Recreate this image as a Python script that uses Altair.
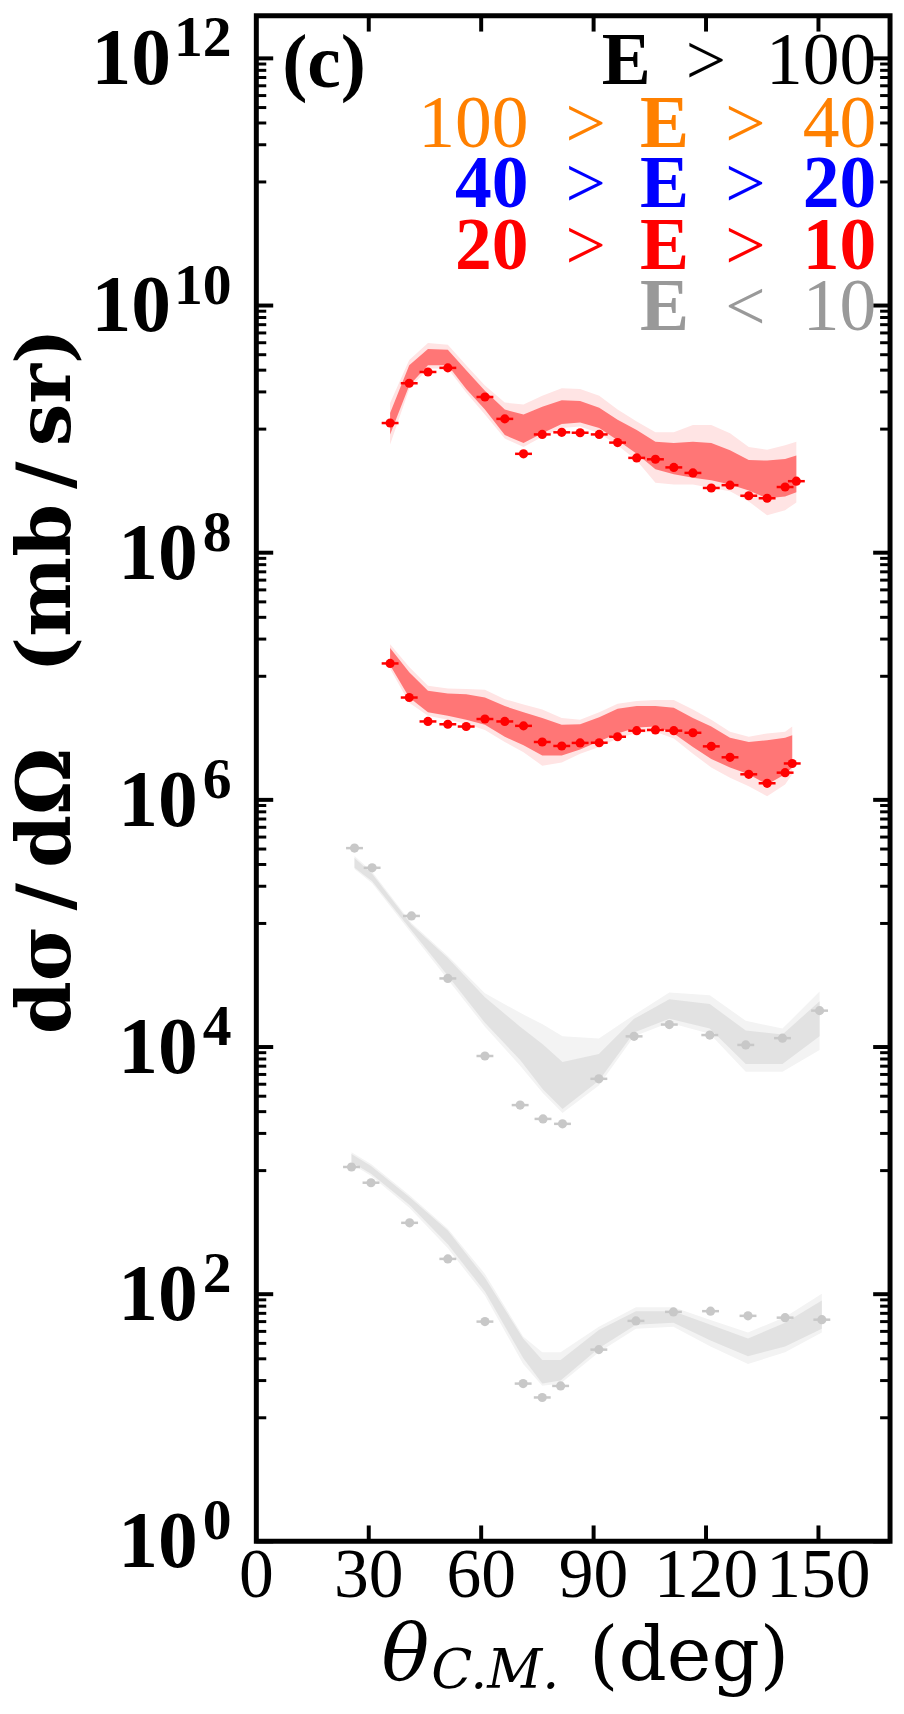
import altair as alt
import pandas as pd

# ------------------------------------------------------------------ data
# angles (theta C.M., deg)
theta_s1_pts = [35.7, 40.8, 45.8, 51.1, 61.0, 66.3, 71.3, 76.3, 81.5, 86.4, 91.5, 96.4,
                101.5, 106.5, 111.4, 116.5, 121.4, 126.4, 131.4, 136.3, 141.1, 144.1]
theta_s1_band = [35.7, 40.8, 45.8, 51.1, 56.0, 61.0, 66.3, 71.3, 76.3, 81.5, 86.4, 91.5,
                 96.4, 101.5, 106.5, 111.4, 116.5, 121.4, 126.4, 131.4, 136.3, 141.1, 144.1]
theta_s2 = [35.7, 40.8, 45.8, 51.1, 56.0, 61.0, 66.3, 71.3, 76.3, 81.5, 86.4, 91.5,
            96.4, 101.5, 106.5, 111.4, 116.5, 121.4, 126.4, 131.4, 136.3, 141.1, 143.0]
theta_s3 = [26.2, 30.9, 41.4, 51.1, 61.0, 70.4, 76.5, 81.7, 91.4, 100.8, 110.2, 121.0,
            130.6, 140.4, 150.3]
theta_s4 = [25.4, 30.6, 40.9, 51.1, 61.0, 71.2, 76.3, 81.2, 91.4, 101.3, 111.3, 121.2,
            131.2, 141.1, 150.9]

# series 1 (red, top)
s1_pts = [1.12e9, 2.35e9, 2.90e9, 3.13e9, 1.82e9, 1.21e9, 6.31e8, 9.06e8, 9.42e8, 9.35e8,
          9.06e8, 7.78e8, 5.85e8, 5.70e8, 4.90e8, 4.42e8, 3.34e8, 3.52e8, 2.89e8, 2.76e8,
          3.40e8, 3.79e8]
s1_in_hi = [1.35e9, 3.29e9, 4.44e9, 4.38e9, 2.99e9, 2.04e9, 1.44e9, 1.31e9, 1.52e9, 1.71e9,
            1.69e9, 1.49e9, 1.19e9, 9.84e8, 7.89e8, 7.73e8, 7.89e8, 7.73e8, 6.73e8, 5.62e8,
            5.56e8, 5.74e8, 6.11e8]
s1_in_lo = [9.04e8, 2.25e9, 3.29e9, 3.29e9, 2.11e9, 1.44e9, 8.95e8, 7.73e8, 9.25e8, 1.10e9,
            1.13e9, 1.02e9, 8.13e8, 6.31e8, 4.74e8, 4.31e8, 4.05e8, 3.85e8, 3.56e8, 3.18e8,
            2.76e8, 2.85e8, 3.09e8]
s1_out_hi = [1.63e9, 3.62e9, 4.98e9, 4.82e9, 3.29e9, 2.25e9, 1.64e9, 1.58e9, 1.86e9, 2.14e9,
             2.11e9, 1.86e9, 1.44e9, 1.15e9, 9.42e8, 9.42e8, 1.08e9, 1.08e9, 9.25e8, 7.16e8,
             6.81e8, 7.40e8, 7.89e8]
s1_out_lo = [7.50e8, 2.11e9, 3.09e9, 3.09e9, 1.98e9, 1.31e9, 8.39e8, 7.16e8, 8.67e8, 1.02e9,
             1.05e9, 9.25e8, 7.40e8, 5.56e8, 3.68e8, 3.56e8, 3.56e8, 3.34e8, 3.14e8, 2.59e8,
             2.01e8, 2.21e8, 2.55e8]

# series 2 (red, second)
s2_pts = [1.27e7, 6.73e6, 4.31e6, 4.09e6, 3.92e6, 4.51e6, 4.31e6, 3.97e6, 2.94e6, 2.73e6,
          2.89e6, 2.90e6, 3.24e6, 3.63e6, 3.68e6, 3.63e6, 3.49e6, 2.71e6, 2.21e6, 1.61e6,
          1.36e6, 1.66e6, 1.97e6]
s2_in_hi = [1.69e7, 1.08e7, 7.64e6, 7.26e6, 7.16e6, 6.73e6, 5.74e6, 5.12e6, 4.59e6, 4.05e6,
            4.09e6, 4.66e6, 5.46e6, 5.74e6, 5.74e6, 5.56e6, 4.59e6, 3.92e6, 3.18e6, 2.94e6,
            3.04e6, 3.18e6, 3.34e6]
s2_in_lo = [1.23e7, 6.73e6, 5.12e6, 4.80e6, 4.45e6, 4.05e6, 3.24e6, 2.76e6, 2.29e6, 2.29e6,
            2.55e6, 2.98e6, 3.45e6, 3.85e6, 3.92e6, 3.45e6, 2.68e6, 2.14e6, 1.83e6, 1.61e6,
            1.33e6, 1.61e6, 1.83e6]
s2_out_hi = [1.82e7, 1.19e7, 8.39e6, 7.98e6, 7.89e6, 7.78e6, 6.52e6, 5.92e6, 5.38e6, 4.59e6,
             4.45e6, 5.12e6, 6.00e6, 6.31e6, 6.43e6, 6.43e6, 5.38e6, 4.45e6, 3.56e6, 3.24e6,
             3.45e6, 3.56e6, 3.92e6]
s2_out_lo = [1.15e7, 6.11e6, 4.80e6, 4.45e6, 4.12e6, 3.68e6, 2.94e6, 2.43e6, 1.89e6, 2.01e6,
             2.36e6, 2.68e6, 3.14e6, 3.49e6, 3.56e6, 3.14e6, 2.36e6, 1.83e6, 1.51e6, 1.29e6,
             1.07e6, 1.33e6, 1.61e6]

# series 3 (gray, upper)
s3_pts = [4.07e5, 2.82e5, 1.15e5, 3.59e4, 8.46e3, 3.39e3, 2.62e3, 2.39e3, 5.53e3, 1.22e4,
          1.52e4, 1.25e4, 1.04e4, 1.18e4, 1.97e4]
s3_in_hi = [3.39e5, 2.53e5, 9.77e4, 5.26e4, 2.53e4, 1.46e4, 1.05e4, 7.57e3, 8.77e3, 1.69e4,
            2.44e4, 2.23e4, 1.36e4, 1.26e4, 2.35e4]
s3_in_lo = [2.82e5, 2.19e5, 8.77e4, 3.78e4, 1.57e4, 7.85e3, 4.54e3, 3.15e3, 5.33e3, 1.31e4,
            1.69e4, 1.41e4, 7.29e3, 7.29e3, 1.22e4]
s3_out_hi = [3.52e5, 2.62e5, 1.01e5, 5.46e4, 2.72e4, 1.89e4, 1.52e4, 1.22e4, 1.17e4, 1.82e4,
             2.76e4, 2.62e4, 1.63e4, 1.41e4, 2.82e4]
s3_out_lo = [2.76e5, 2.11e5, 8.34e4, 3.52e4, 1.46e4, 7.05e3, 4.22e3, 2.93e3, 4.89e3, 1.22e4,
             1.57e4, 1.28e4, 6.31e3, 6.31e3, 9.44e3]

# series 4 (gray, lower)
s4_pts = [1.07e3, 798, 378, 193, 60.0, 18.9, 14.6, 18.1, 35.6, 60.8, 71.9, 72.9, 66.8,
          64.6, 62.2]
s4_in_hi = [1.36e3, 1.09e3, 608, 327, 136, 43.8, 29.3, 29.3, 51.4, 72.9, 72.9, 56.5, 43.8,
            58.6, 88.9]
s4_in_lo = [1.17e3, 944, 526, 253, 105, 30.4, 18.9, 20.0, 36.5, 56.5, 58.6, 42.2, 31.5,
            37.8, 52.6]
s4_out_hi = [1.41e3, 1.13e3, 631, 339, 146, 45.4, 33.9, 33.9, 54.6, 78.5, 78.5, 61.7, 48.9,
             65.5, 101]
s4_out_lo = [1.13e3, 910, 499, 235, 97.7, 27.2, 18.2, 18.9, 33.9, 52.6, 54.6, 37.8, 27.2,
             33.9, 48.9]

# axis ticks / labels
x_ticks = [30, 60, 90, 120, 150]
x_labels = [0, 30, 60, 90, 120, 150]
y_major = [1, 1e2, 1e4, 1e6, 1e8, 1e10, 1e12]
y_major_exp = ["0", "2", "4", "6", "8", "10", "12"]
y_minor = [k * 10.0 ** (2 * m - 1) for m in range(1, 7) for k in range(1, 10)]

# legend text
legend_left = [None, "100", "40", "20", None]
legend_rel = [">", ">", ">", ">", "<"]
legend_right = ["100", "40", "20", "10", "10"]
legend_colors = ["#000000", "#ff8000", "#0000ff", "#ff0000", "#999999"]
legend_bold = [False, False, True, True, False]

# ------------------------------------------------------------------ frames
W, H = 638, 1536
SERIF = "Liberation Serif"
DJ = "DejaVu Serif"

pts = pd.concat([
    pd.DataFrame({"theta": theta_s1_pts, "xs": s1_pts, "series": "s1", "tone": "red"}),
    pd.DataFrame({"theta": theta_s2, "xs": s2_pts, "series": "s2", "tone": "red"}),
    pd.DataFrame({"theta": theta_s3, "xs": s3_pts, "series": "s3", "tone": "gray"}),
    pd.DataFrame({"theta": theta_s4, "xs": s4_pts, "series": "s4", "tone": "gray"}),
], ignore_index=True)

bands = pd.concat([
    pd.DataFrame({"theta": theta_s1_band, "ihi": s1_in_hi, "ilo": s1_in_lo,
                  "ohi": s1_out_hi, "olo": s1_out_lo, "series": "s1", "tone": "red"}),
    pd.DataFrame({"theta": theta_s2, "ihi": s2_in_hi, "ilo": s2_in_lo,
                  "ohi": s2_out_hi, "olo": s2_out_lo, "series": "s2", "tone": "red"}),
    pd.DataFrame({"theta": theta_s3, "ihi": s3_in_hi, "ilo": s3_in_lo,
                  "ohi": s3_out_hi, "olo": s3_out_lo, "series": "s3", "tone": "gray"}),
    pd.DataFrame({"theta": theta_s4, "ihi": s4_in_hi, "ilo": s4_in_lo,
                  "ohi": s4_out_hi, "olo": s4_out_lo, "series": "s4", "tone": "gray"}),
], ignore_index=True)

xscale = alt.Scale(domain=[0, 169.1], nice=False, zero=False)
yscale = alt.Scale(type="log", domain=[1, 2.216e12], nice=False)


def X(field="theta"):
    return alt.X(f"{field}:Q", scale=xscale, axis=None)


def Y(field):
    return alt.Y(f"{field}:Q", scale=yscale, axis=None)


layers = []

band_colors = {"red": ("#ffe4e4", "#ff7676"), "gray": ("#f3f3f3", "#e2e2e2")}
for tone, (c_out, c_in) in band_colors.items():
    base = alt.Chart(bands).transform_filter(alt.datum.tone == tone)
    layers.append(base.mark_area(color=c_out, opacity=1).encode(
        x=X(), y=Y("ohi"), y2=alt.Y2("olo:Q"), detail="series:N"))
    layers.append(base.mark_area(color=c_in, opacity=1).encode(
        x=X(), y=Y("ihi"), y2=alt.Y2("ilo:Q"), detail="series:N"))

pt_colors = {"red": "#ff0000", "gray": "#c8c8c8"}
for tone, c in pt_colors.items():
    base = alt.Chart(pts).transform_filter(alt.datum.tone == tone)
    layers.append(base.mark_tick(orient="horizontal", size=17, thickness=2.5, color=c,
                                 opacity=1).encode(x=X(), y=Y("xs")))
    layers.append(base.mark_circle(size=85, color=c, opacity=1).encode(x=X(), y=Y("xs")))

# inward ticks on all sides
ymaj = pd.DataFrame({"v": y_major, "e": y_major_exp})
ymin = pd.DataFrame({"v": y_minor})
xt = pd.DataFrame({"theta": x_ticks})
for x0, x1 in [(0, 17), (W - 17, W)]:
    layers.append(alt.Chart(ymaj).mark_rule(color="black", strokeWidth=4).encode(
        y=Y("v"), x=alt.value(x0), x2=alt.value(x1)))
for x0, x1 in [(0, 10), (W - 10, W)]:
    layers.append(alt.Chart(ymin).mark_rule(color="black", strokeWidth=3).encode(
        y=Y("v"), x=alt.value(x0), x2=alt.value(x1)))
for y0, y1 in [(H - 16, H), (0, 16)]:
    layers.append(alt.Chart(xt).mark_rule(color="black", strokeWidth=4).encode(
        x=X(), y=alt.value(y0), y2=alt.value(y1)))

# y tick labels: "10" + superscript exponent
layers.append(alt.Chart(ymaj).transform_filter("length(datum.e) == 1").mark_text(
    text="10", align="right", baseline="alphabetic", dy=26, font=SERIF, fontSize=80,
    fontWeight="bold", color="black").encode(y=Y("v"), x=alt.value(-59)))
layers.append(alt.Chart(ymaj).transform_filter("length(datum.e) == 2").mark_text(
    text="10", align="right", baseline="alphabetic", dy=26, font=SERIF, fontSize=80,
    fontWeight="bold", color="black").encode(y=Y("v"), x=alt.value(-86)))
layers.append(alt.Chart(ymaj).mark_text(
    align="right", baseline="alphabetic", dy=-2, font=SERIF, fontSize=58,
    fontWeight="bold", color="black").encode(y=Y("v"), x=alt.value(-25), text="e:N"))

# x tick labels
layers.append(alt.Chart(pd.DataFrame({"theta": x_labels})).mark_text(
    align="center", baseline="alphabetic", font=SERIF, fontSize=70, color="black").encode(
    x=X(), y=alt.value(H + 56), text=alt.Text("theta:Q", format="d")))


def txt(s, x, y, size, color="black", weight="normal", style="normal", align="left",
        font=SERIF, angle=0):
    return alt.Chart(pd.DataFrame({"s": [s]})).mark_text(
        align=align, baseline="alphabetic", font=font, fontSize=size, fontWeight=weight,
        fontStyle=style, color=color, angle=angle).encode(
        text="s:N", x=alt.value(x), y=alt.value(y))


# axis titles
layers.append(txt("dσ\u2009/\u2009dΩ\u2003(mb\u2009/\u2009sr)", -188, 670, 76,
                  weight="bold", align="center", font=DJ, angle=270))
layers.append(txt("θ", 126, H + 140, 80, style="italic", font=DJ))
layers.append(txt("C.M.", 176, H + 148, 54, style="italic", font=DJ))
layers.append(txt("(deg)", 335, H + 140, 76, font=DJ))

# panel label
layers.append(txt("(c)", 26, 72, 76, weight="bold"))

# legend lines
baselines = [69, 132, 193, 255, 316]
for i in range(5):
    c = legend_colors[i]
    w = "bold" if legend_bold[i] else "normal"
    yb = baselines[i]
    layers.append(txt(legend_right[i], 624, yb, 74, color=c, weight=w, align="right"))
    if i == 0:
        layers.append(txt("E", 372.5, yb, 74, color=c, weight="bold", align="center"))
        layers.append(txt(legend_rel[i], 452.5, yb, 72, color=c, align="center"))
    else:
        layers.append(txt("E", 411, yb, 74, color=c, weight="bold", align="center"))
        layers.append(txt(legend_rel[i], 492.5, yb, 72, color=c, align="center"))
        if legend_left[i] is not None:
            layers.append(txt(legend_left[i], 274, yb, 74, color=c, weight=w, align="right"))
            layers.append(txt(legend_rel[i], 331.5, yb, 72, color=c, align="center"))

chart = alt.layer(*layers).properties(
    width=W, height=H,
    padding={"left": 250, "top": 2, "right": 6, "bottom": 154},
    autosize=alt.AutoSizeParams(type="none"),
    background="white",
).configure_view(stroke="black", strokeWidth=5)

chart.save("out.html", embed_options={"renderer": "svg", "actions": False})
